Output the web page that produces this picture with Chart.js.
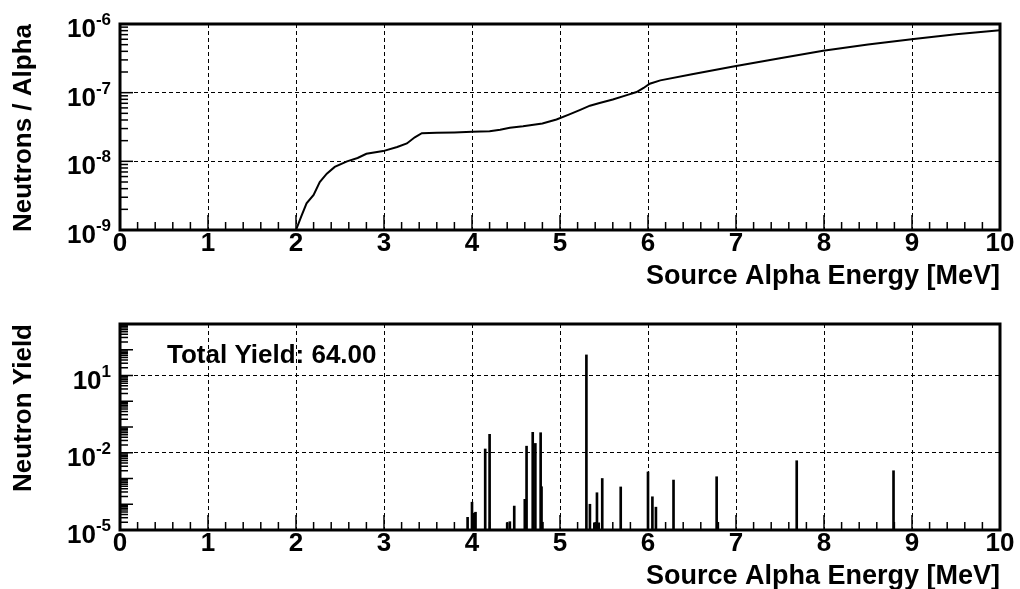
<!DOCTYPE html>
<html lang="en">
<head>
    <meta charset="UTF-8">
    <title>Neutron yield vs alpha energy</title>
    <style>
        body {
            margin: 0;
            width: 1020px;
            height: 589px;
            overflow: hidden;
            background: #fff;
        }
        canvas {
            position: absolute;
            left: 0;
        }
        #topChart { top: 0; }
        #bottomChart { top: 300px; }
    </style>
</head>
<body>
    <canvas id="topChart" width="1020" height="295"></canvas>
    <canvas id="bottomChart" width="1020" height="295"></canvas>
    <script src="https://cdn.jsdelivr.net/npm/chart.js"></script>
    <script>
        // top pad: neutrons per alpha vs source alpha energy
        const curveEnergy = [2.00, 2.06, 2.12, 2.20, 2.27, 2.35, 2.44, 2.58, 2.70, 2.80, 2.99, 3.15, 3.26, 3.35, 3.43,
            3.60, 3.80, 4.00, 4.20, 4.32, 4.43, 4.58, 4.80, 4.96, 5.10, 5.23, 5.34, 5.45, 5.60, 5.75, 5.87, 5.95,
            6.02, 6.14, 6.50, 6.97, 7.50, 7.99, 8.50, 9.02, 9.50, 10.0];
        const neutronsPerAlpha = [1.0e-9, 1.58e-9, 2.45e-9, 3.24e-9, 5.0e-9, 6.6e-9, 8.3e-9, 1.0e-8, 1.12e-8, 1.29e-8,
            1.41e-8, 1.62e-8, 1.82e-8, 2.24e-8, 2.57e-8, 2.60e-8, 2.63e-8, 2.69e-8, 2.75e-8, 2.88e-8, 3.09e-8, 3.24e-8,
            3.55e-8, 4.07e-8, 4.79e-8, 5.62e-8, 6.46e-8, 7.08e-8, 7.94e-8, 9.12e-8, 1.02e-7, 1.17e-7, 1.35e-7, 1.51e-7,
            1.86e-7, 2.40e-7, 3.16e-7, 4.07e-7, 5.01e-7, 6.03e-7, 7.08e-7, 8.13e-7];

        // bottom pad: neutron yield per alpha line
        const lineEnergy = [3.95, 4.00, 4.02, 4.04, 4.15, 4.20, 4.40, 4.43, 4.48, 4.60, 4.62, 4.69, 4.72, 4.78, 4.79,
            4.80, 5.30, 5.34, 5.39, 5.42, 5.44, 5.48, 5.69, 6.00, 6.05, 6.09, 6.29, 6.78, 7.69, 8.79];
        const neutronYield = [3.1e-5, 1.2e-4, 4.5e-5, 4.9e-5, 1.4e-2, 5.2e-2, 1.9e-5, 2.1e-5, 8.5e-5, 1.55e-4, 1.8e-2,
            6.2e-2, 2.3e-2, 6.0e-2, 4.8e-4, 2.0e-5, 63, 1.0e-4, 1.9e-5, 2.8e-4, 1.9e-5, 1.0e-3, 4.7e-4, 1.8e-3, 1.95e-4,
            7.7e-5, 8.7e-4, 1.17e-3, 4.9e-3, 2.0e-3];
        const totalYield = '64.00';

        // axes
        const energyTicks = [0, 1, 2, 3, 4, 5, 6, 7, 8, 9, 10];
        const topExponents = [-9, -8, -7, -6];
        const bottomExponents = [-5, -2, 1];
        const bottomRange = [-5, 3];

        const FONT = 'Liberation Sans';

        // ROOT-like frame: thick box, ticks inside, 10^n labels
        const rootFrame = {
            id: 'rootFrame',
            afterDraw(chart, args, opts) {
                const ctx = chart.ctx;
                const a = chart.chartArea;
                const x = chart.scales.x;
                const y = chart.scales.y;
                ctx.save();
                ctx.strokeStyle = '#000';
                ctx.lineWidth = 1.5;

                for (let i = 0; i <= 50; i++) {
                    const px = x.getPixelForValue(i * 0.2);
                    const len = i % 5 === 0 ? 15 : 8;
                    ctx.beginPath();
                    ctx.moveTo(px, a.bottom);
                    ctx.lineTo(px, a.bottom - len);
                    ctx.stroke();
                }

                for (let d = opts.range[0]; d < opts.range[1]; d++) {
                    for (let k = 1; k <= 9; k++) {
                        const py = y.getPixelForValue(k * Math.pow(10, d));
                        const len = k === 1 ? 13 : 8;
                        ctx.beginPath();
                        ctx.moveTo(a.left, py);
                        ctx.lineTo(a.left + len, py);
                        ctx.stroke();
                    }
                }

                ctx.lineWidth = 3;
                ctx.strokeRect(a.left, a.top, a.right - a.left, a.bottom - a.top);

                ctx.fillStyle = '#000';
                ctx.textAlign = 'left';
                ctx.textBaseline = 'alphabetic';
                opts.exponents.forEach(function(e) {
                    const py = y.getPixelForValue(Math.pow(10, e));
                    const sup = String(e);
                    ctx.font = 'bold 17px "' + FONT + '"';
                    const supW = ctx.measureText(sup).width;
                    const right = 111;
                    ctx.fillText(sup, right - supW, py + 1);
                    ctx.font = 'bold 26px "' + FONT + '"';
                    const baseW = ctx.measureText('10').width;
                    ctx.fillText('10', right - supW - baseW, py + 13);
                });

                if (opts.note) {
                    ctx.font = 'bold 26px "' + FONT + '"';
                    ctx.fillText(opts.note, a.left + 47, a.top + 39);
                }
                ctx.restore();
            }
        };

        function xScale() {
            return {
                type: 'linear',
                min: 0,
                max: 10,
                offset: false,
                afterBuildTicks: function(scale) {
                    scale.ticks = energyTicks.map(function(v) { return { value: v }; });
                },
                afterFit: function(scale) { scale.height = 65; },
                ticks: {
                    color: '#000',
                    padding: 1,
                    maxRotation: 0,
                    font: { family: FONT, size: 26, weight: 'bold', lineHeight: 1.0 }
                },
                grid: { color: '#000', lineWidth: 1, drawTicks: false, offset: false },
                border: { display: false, dash: [4, 3] },
                title: {
                    display: true,
                    text: 'Source Alpha Energy [MeV]',
                    align: 'end',
                    color: '#000',
                    padding: { top: 0, bottom: 5 },
                    font: { family: FONT, size: 27, weight: 'bold', lineHeight: 1.0 }
                }
            };
        }

        function yScale(exponents, range, title) {
            return {
                type: 'logarithmic',
                min: Math.pow(10, range[0]),
                max: Math.pow(10, range[1]),
                afterBuildTicks: function(scale) {
                    scale.ticks = exponents.map(function(e) { return { value: Math.pow(10, e) }; });
                },
                afterFit: function(scale) { scale.width = 120; },
                ticks: { display: false },
                grid: { color: '#000', lineWidth: 1, drawTicks: false },
                border: { display: false, dash: [4, 3] },
                title: {
                    display: true,
                    text: title,
                    align: 'end',
                    color: '#000',
                    padding: { top: 11, bottom: 0 },
                    font: { family: FONT, size: 26, weight: 'bold', lineHeight: 1.0 }
                }
            };
        }

        const commonOptions = {
            responsive: false,
            animation: false,
            devicePixelRatio: 1,
            layout: { padding: { top: 24, right: 20, left: 0, bottom: 0 } },
            plugins: { legend: { display: false }, tooltip: { enabled: false } }
        };

        new Chart(document.getElementById('topChart').getContext('2d'), {
            type: 'line',
            data: {
                datasets: [{
                    data: curveEnergy.map(function(e, i) { return { x: e, y: neutronsPerAlpha[i] }; }),
                    borderColor: '#000',
                    borderWidth: 2,
                    pointRadius: 0,
                    tension: 0,
                    fill: false
                }]
            },
            options: Object.assign({}, commonOptions, {
                scales: {
                    x: xScale(),
                    y: yScale(topExponents, [-9, -6], 'Neutrons / Alpha')
                },
                plugins: Object.assign({}, commonOptions.plugins, {
                    rootFrame: { range: [-9, -6], exponents: topExponents }
                })
            }),
            plugins: [rootFrame]
        });

        new Chart(document.getElementById('bottomChart').getContext('2d'), {
            type: 'bar',
            data: {
                datasets: [{
                    data: lineEnergy.map(function(e, i) { return { x: e, y: neutronYield[i] }; }),
                    backgroundColor: '#000',
                    borderWidth: 0,
                    barThickness: 2,
                    grouped: false
                }]
            },
            options: Object.assign({}, commonOptions, {
                scales: {
                    x: xScale(),
                    y: yScale(bottomExponents, bottomRange, 'Neutron Yield')
                },
                plugins: Object.assign({}, commonOptions.plugins, {
                    rootFrame: { range: bottomRange, exponents: bottomExponents, note: 'Total Yield: ' + totalYield }
                })
            }),
            plugins: [rootFrame]
        });
    </script>
</body>
</html>
